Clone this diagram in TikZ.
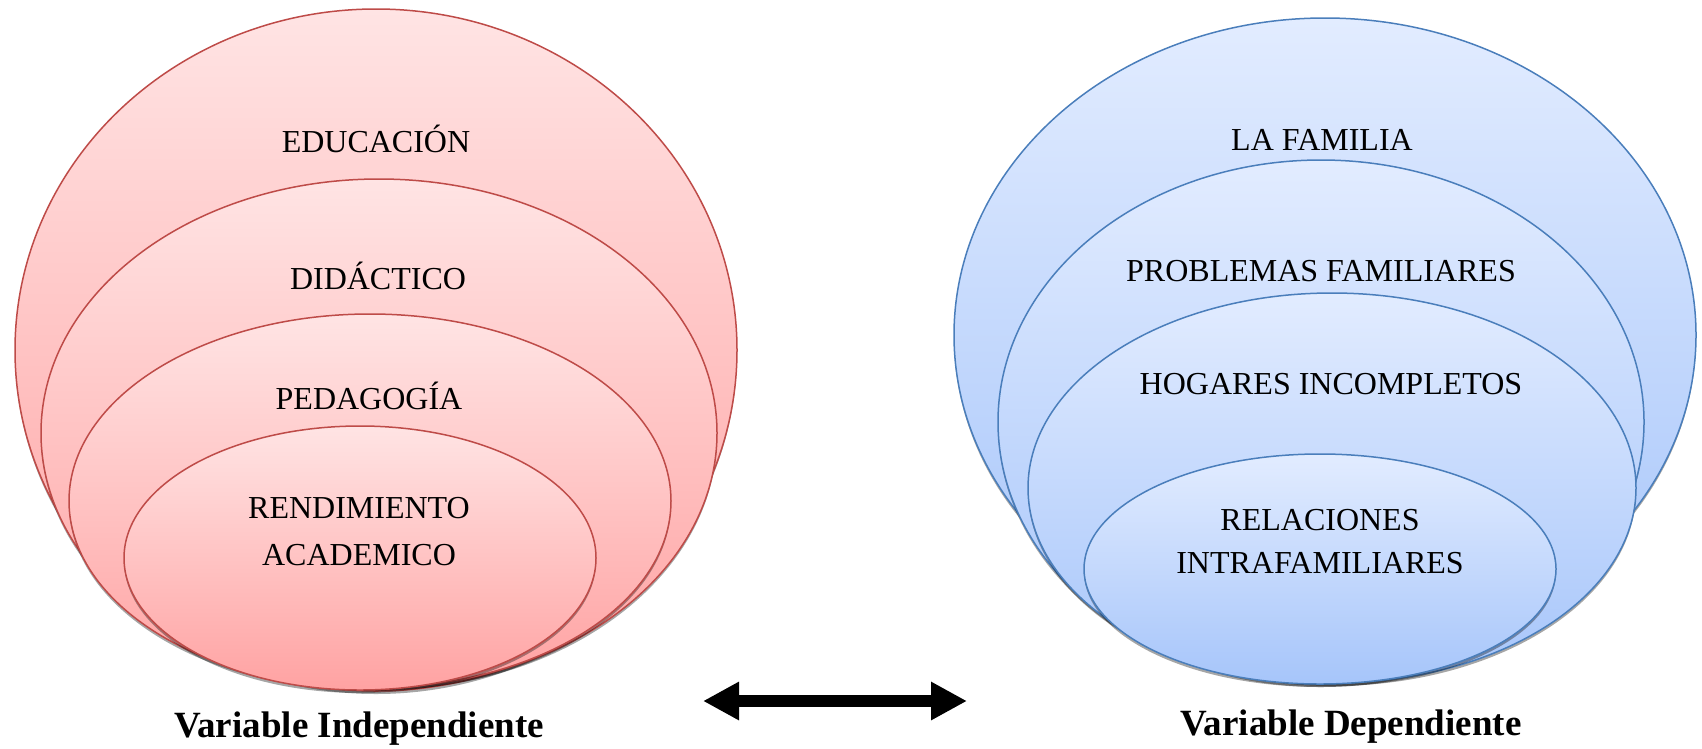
\documentclass[tikz,border=0pt]{standalone}
\usepackage{fontspec}
\setmainfont{Liberation Serif}
\usetikzlibrary{shapes.geometric,shadows,arrows.meta}
\definecolor{rtop}{HTML}{FFE4E4}
\definecolor{rbot}{HTML}{FFA2A2}
\definecolor{redge}{HTML}{BE4B48}
\definecolor{btop}{HTML}{E2ECFF}
\definecolor{bbot}{HTML}{A6C5FA}
\definecolor{bedge}{HTML}{4A7EBB}
\begin{document}
\begin{tikzpicture}[x=1pt,y=-1pt,
  ell/.style={ellipse, inner sep=0pt, line width=1.5pt,
    drop shadow={shadow xshift=0pt,shadow yshift=-3pt,opacity=0.35,fill=black}},
  redell/.style={ell, draw=redge, top color=rtop, bottom color=rbot},
  blueell/.style={ell, draw=bedge, top color=btop, bottom color=bbot},
  lbl/.style={font=\fontsize{32}{40}\selectfont, inner sep=0pt, anchor=base},
  capt/.style={font=\fontsize{37}{42}\selectfont\bfseries, inner sep=0pt, anchor=base}]
\useasboundingbox (0,0) rectangle (1702,748);
% left group
\node[redell, minimum width=722pt, minimum height=682pt] (L1) at (376,350) {};
\node[redell, minimum width=676pt, minimum height=508pt] (L2) at (379,433) {};
\node[redell, minimum width=602pt, minimum height=374pt] (L3) at (370,501) {};
\node[redell, minimum width=472pt, minimum height=264pt] (L4) at (360,558) {};
\node[lbl] (t1) at (376,152) {EDUCACIÓN};
\node[lbl] (t2) at (378,289) {DIDÁCTICO};
\node[lbl] (t3) at (369,409) {PEDAGOGÍA};
\node[lbl] (t4a) at (359,518) {RENDIMIENTO};
\node[lbl] (t4b) at (359,565) {ACADEMICO};
\node[capt] (capL) at (359,737) {Variable Independiente};
% right group
\node[blueell, minimum width=742pt, minimum height=634pt] (R1) at (1325,335) {};
\node[blueell, minimum width=646pt, minimum height=524pt] (R2) at (1321,422) {};
\node[blueell, minimum width=608pt, minimum height=390pt] (R3) at (1332,488) {};
\node[blueell, minimum width=472pt, minimum height=230pt] (R4) at (1320,569) {};
\node[lbl] (s1) at (1322,150) {LA FAMILIA};
\node[lbl] (s2) at (1321,281) {PROBLEMAS FAMILIARES};
\node[lbl] (s3) at (1331,394) {HOGARES INCOMPLETOS};
\node[lbl] (s4a) at (1320,530) {RELACIONES};
\node[lbl] (s4b) at (1320,573) {INTRAFAMILIARES};
\node[capt] (capR) at (1351,735) {Variable Dependiente};
% arrow
\coordinate (arL) at (703,701);
\coordinate (arR) at (967,701);
\draw[line width=12pt, {Triangle[length=36pt,width=36pt]}-{Triangle[length=36pt,width=36pt]}] (arL) -- (arR);
\end{tikzpicture}
\end{document}
